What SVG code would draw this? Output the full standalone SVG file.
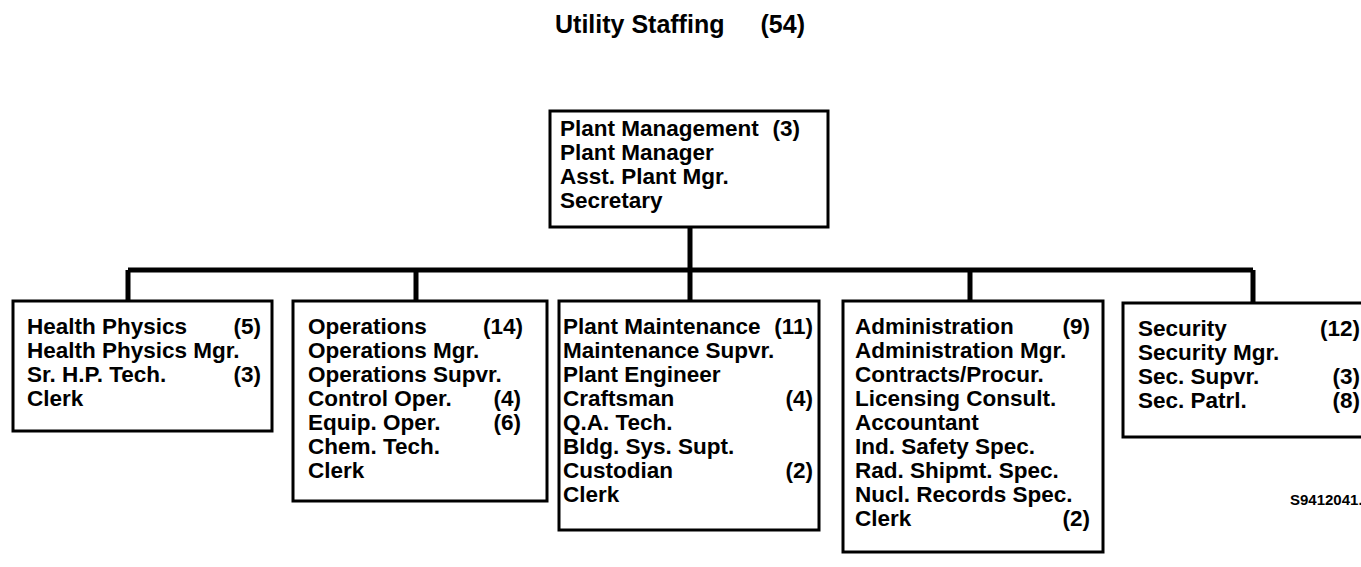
<svg xmlns="http://www.w3.org/2000/svg" width="1361" height="567" viewBox="0 0 1361 567">
<style>
.t{font-family:"Liberation Sans",Arial,sans-serif;font-weight:bold;font-size:22.5px;fill:#000}
.n{text-anchor:end}
.box{fill:#fff;stroke:#000;stroke-width:3}
.c{stroke:#000;stroke-width:5;fill:none}
</style>
<rect width="1361" height="567" fill="#fff"/>
<text x="555" y="33" class="t" style="font-size:25px">Utility Staffing</text>
<text x="805" y="33" class="t n" style="font-size:25px">(54)</text>
<g id="connectors">
<path class="c" d="M690 227V270M128 270H1253M128 270V301M416 270V301M690 270V301M970 270V301M1253 270V303"/>
</g>
<g id="plant-management">
<rect class="box" x="550" y="111" width="278" height="116"/>
<text class="t" x="560" y="136">Plant Management</text><text class="t n" x="800" y="136">(3)</text>
<text class="t" x="560" y="160">Plant Manager</text>
<text class="t" x="560" y="184">Asst. Plant Mgr.</text>
<text class="t" x="560" y="208">Secretary</text>
</g>
<g id="health-physics">
<rect class="box" x="13" y="301" width="259" height="130"/>
<text class="t" x="27" y="334">Health Physics</text><text class="t n" x="261" y="334">(5)</text>
<text class="t" x="27" y="358">Health Physics Mgr.</text>
<text class="t" x="27" y="382">Sr. H.P. Tech.</text><text class="t n" x="261" y="382">(3)</text>
<text class="t" x="27" y="406">Clerk</text>
</g>
<g id="operations">
<rect class="box" x="293" y="301" width="254" height="200"/>
<text class="t" x="308" y="334">Operations</text><text class="t n" x="523" y="334">(14)</text>
<text class="t" x="308" y="358">Operations Mgr.</text>
<text class="t" x="308" y="382">Operations Supvr.</text>
<text class="t" x="308" y="406">Control Oper.</text><text class="t n" x="521" y="406">(4)</text>
<text class="t" x="308" y="430">Equip. Oper.</text><text class="t n" x="521" y="430">(6)</text>
<text class="t" x="308" y="454">Chem. Tech.</text>
<text class="t" x="308" y="478">Clerk</text>
</g>
<g id="plant-maintenance">
<rect class="box" x="559" y="301" width="260" height="229"/>
<text class="t" x="563" y="334">Plant Maintenance</text><text class="t n" x="813" y="334">(11)</text>
<text class="t" x="563" y="358">Maintenance Supvr.</text>
<text class="t" x="563" y="382">Plant Engineer</text>
<text class="t" x="563" y="406">Craftsman</text><text class="t n" x="813" y="406">(4)</text>
<text class="t" x="563" y="430">Q.A. Tech.</text>
<text class="t" x="563" y="454">Bldg. Sys. Supt.</text>
<text class="t" x="563" y="478">Custodian</text><text class="t n" x="813" y="478">(2)</text>
<text class="t" x="563" y="502">Clerk</text>
</g>
<g id="administration">
<rect class="box" x="843" y="301" width="260" height="251"/>
<text class="t" x="855" y="334">Administration</text><text class="t n" x="1090" y="334">(9)</text>
<text class="t" x="855" y="358">Administration Mgr.</text>
<text class="t" x="855" y="382">Contracts/Procur.</text>
<text class="t" x="855" y="406">Licensing Consult.</text>
<text class="t" x="855" y="430">Accountant</text>
<text class="t" x="855" y="454">Ind. Safety Spec.</text>
<text class="t" x="855" y="478">Rad. Shipmt. Spec.</text>
<text class="t" x="855" y="502">Nucl. Records Spec.</text>
<text class="t" x="855" y="526">Clerk</text><text class="t n" x="1090" y="526">(2)</text>
</g>
<g id="security">
<rect class="box" x="1123" y="303" width="250" height="134"/>
<text class="t" x="1138" y="336">Security</text><text class="t n" x="1360" y="336">(12)</text>
<text class="t" x="1138" y="360">Security Mgr.</text>
<text class="t" x="1138" y="384">Sec. Supvr.</text><text class="t n" x="1360" y="384">(3)</text>
<text class="t" x="1138" y="408">Sec. Patrl.</text><text class="t n" x="1360" y="408">(8)</text>
</g>
<text class="t" x="1290" y="505" style="font-size:15px">S9412041.</text>
</svg>
